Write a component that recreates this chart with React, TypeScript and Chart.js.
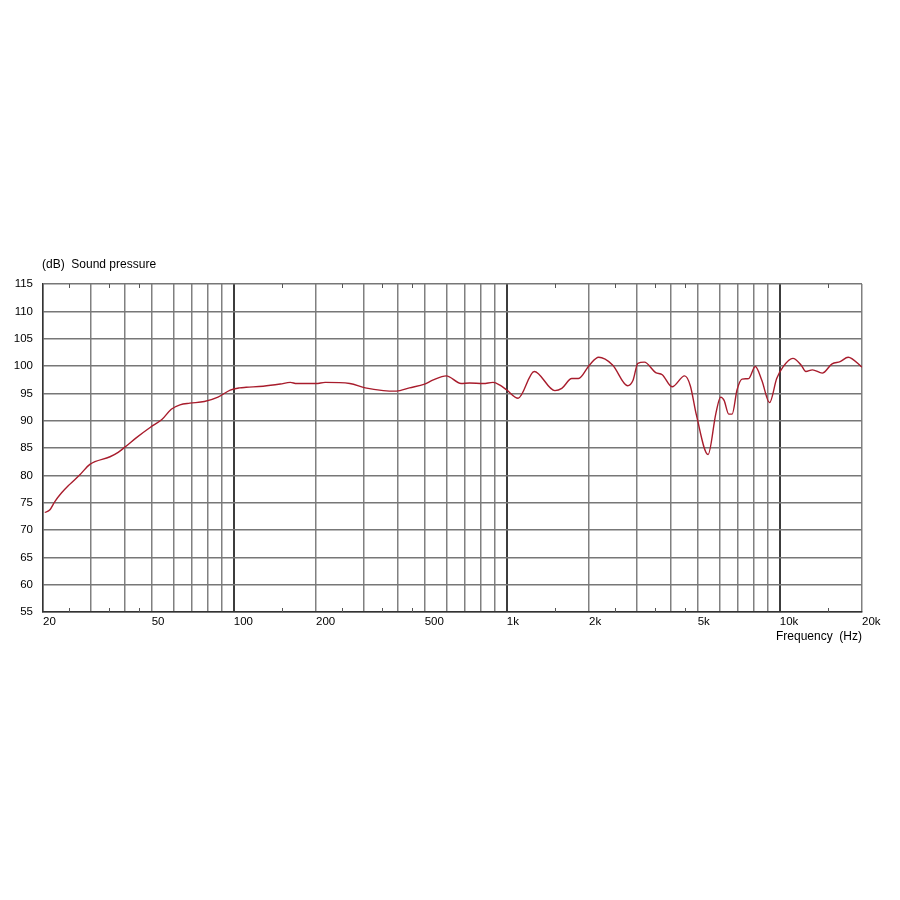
import React, { useEffect, useRef } from "react";
import { Chart, registerables } from "chart.js";

Chart.register(...registerables);

// Frequency (Hz) and sound pressure (dB)
const FREQS = [
  20.3, 21.2, 22.1, 23.4, 25, 27.3, 29.7, 35.2, 37.7, 40, 44, 49.5, 54.5, 59, 63.5, 69, 78, 87.5, 97, 105,
  111, 128, 148, 161, 170, 200, 216, 266, 303, 353, 394, 440, 500, 535, 600, 680, 730, 820, 890, 944,
  1000, 1100, 1260, 1500, 1590, 1730, 1830, 2010, 2170, 2440, 2770, 2900, 3020, 3190, 3510, 3710, 4030, 4480, 4700, 4950,
  5460, 5830, 6070, 6250, 6500, 6690, 6970, 7270, 7690, 8130, 8590, 9170, 9740, 10290, 11170, 11960, 12460, 13170, 14300, 15540,
  16630, 17800, 20000,
];
const SPL = [
  73.2, 73.7, 75.2, 76.8, 78.3, 80.1, 82.0, 83.4, 84.2, 85.2, 86.9, 88.8, 90.2, 92.1, 92.9, 93.2, 93.5, 94.3, 95.6, 96.0,
  96.1, 96.3, 96.7, 97.0, 96.8, 96.8, 97.0, 96.8, 96.0, 95.5, 95.4, 96.0, 96.7, 97.4, 98.2, 96.8, 96.9, 96.8, 97.0, 96.5,
  95.6, 94.1, 99.0, 95.5, 95.9, 97.7, 97.7, 100.2, 101.6, 100.2, 96.4, 97.4, 100.5, 100.7, 98.8, 98.4, 96.2, 98.2, 96.4, 91.0,
  83.8, 91.3, 94.3, 93.7, 91.2, 91.2, 95.6, 97.6, 97.7, 99.9, 97.4, 93.3, 97.7, 99.9, 101.4, 100.2, 99.0, 99.3, 98.7, 100.4,
  100.8, 101.6, 99.8,
];

const Y_MIN = 55;
const Y_MAX = 115;
const Y_STEP = 5;
const X_MIN = 20;
const X_MAX = 20000;

const GRID_FREQS = [
  20, 30, 40, 50, 60, 70, 80, 90,
  100, 200, 300, 400, 500, 600, 700, 800, 900,
  1000, 2000, 3000, 4000, 5000, 6000, 7000, 8000, 9000,
  10000, 20000,
];
const DECADES = [100, 1000, 10000];
const LABELED_FREQS = [20, 50, 100, 200, 500, 1000, 2000, 5000, 10000, 20000];
const LABEL_TEXT = ["20", "50", "100", "200", "500", "1k", "2k", "5k", "10k", "20k"];
const MINOR_TICKS = [25, 35, 45, 150, 250, 350, 450, 1500, 2500, 3500, 4500, 15000];

const Y_TITLE = "(dB)  Sound pressure";
const X_TITLE = "Frequency  (Hz)";

const FONT_FAMILY = "'Liberation Sans', Arial, sans-serif";
const TEXT_COLOR = "#000000";

const titlePlugin = {
  id: "topTitle",
  afterDraw(chart: any) {
    const { ctx, chartArea } = chart;
    ctx.save();
    ctx.font = `12px ${FONT_FAMILY}`;
    ctx.fillStyle = TEXT_COLOR;
    ctx.textAlign = "left";
    ctx.textBaseline = "middle";
    ctx.fillText(Y_TITLE, chartArea.left - 1, 265);
    ctx.restore();
  },
};

const minorTickPlugin = {
  id: "minorTicks",
  beforeDatasetsDraw(chart: any) {
    const { ctx, chartArea, scales } = chart;
    const xs = scales.x;
    ctx.save();
    ctx.strokeStyle = "#555";
    ctx.lineWidth = 1;
    ctx.beginPath();
    MINOR_TICKS.forEach((v) => {
      const px = Math.round(xs.getPixelForValue(v)) + 0.5;
      ctx.moveTo(px, chartArea.top);
      ctx.lineTo(px, chartArea.top + 4);
      ctx.moveTo(px, chartArea.bottom - 4);
      ctx.lineTo(px, chartArea.bottom);
    });
    ctx.stroke();
    ctx.restore();
  },
};

export default function App() {
  const canvasRef = useRef<HTMLCanvasElement | null>(null);

  useEffect(() => {
    const canvas = canvasRef.current;
    if (!canvas) return;
    const tickFont = { family: FONT_FAMILY, size: 11.5 };
    const chart = new Chart(canvas, {
      type: "line",
      data: {
        datasets: [
          {
            data: FREQS.map((f, i) => ({ x: f, y: SPL[i] })),
            borderColor: "#a81c2c",
            borderWidth: 1.4,
            pointRadius: 0,
            fill: false,
            cubicInterpolationMode: "monotone",
          },
        ],
      },
      options: {
        responsive: false,
        animation: false,
        devicePixelRatio: 1,
        layout: { padding: { top: 284, left: 0, right: 38, bottom: 0 } },
        plugins: {
          legend: { display: false },
          tooltip: { enabled: false },
        },
        scales: {
          x: {
            type: "logarithmic",
            min: X_MIN,
            max: X_MAX,
            afterBuildTicks: (scale: any) => {
              scale.ticks = GRID_FREQS.map((v) => ({ value: v }));
            },
            afterFit: (scale: any) => {
              scale.height = 288;
            },
            ticks: {
              autoSkip: false,
              maxRotation: 0,
              minRotation: 0,
              align: "start",
              padding: 3,
              font: tickFont,
              color: TEXT_COLOR,
              callback: (value: any) => {
                const i = LABELED_FREQS.indexOf(Number(value));
                return i >= 0 ? LABEL_TEXT[i] : "";
              },
            },
            grid: {
              drawTicks: false,
              color: (ctx: any) =>
                DECADES.includes(ctx.tick?.value) ? "#3c3c3c" : "#808080",
              lineWidth: (ctx: any) => (DECADES.includes(ctx.tick?.value) ? 2 : 1.5),
            },
            border: { display: true, color: "#333", width: 1.5 },
            title: {
              display: true,
              text: X_TITLE,
              align: "end",
              color: TEXT_COLOR,
              font: { family: FONT_FAMILY, size: 12 },
              padding: { top: 0, bottom: 255.8 },
            },
          },
          y: {
            type: "linear",
            min: Y_MIN,
            max: Y_MAX,
            afterFit: (scale: any) => {
              scale.width = 43;
            },
            ticks: {
              stepSize: Y_STEP,
              padding: 10,
              font: tickFont,
              color: TEXT_COLOR,
            },
            grid: {
              drawTicks: false,
              color: "#777777",
              lineWidth: 1.5,
            },
            border: { display: true, color: "#333", width: 1.5 },
          },
        },
      },
      plugins: [minorTickPlugin, titlePlugin],
    } as any);
    return () => chart.destroy();
  }, []);

  return (
    <div
      style={{
        position: "absolute",
        left: 0,
        top: 0,
        width: 900,
        height: 900,
        background: "#ffffff",
      }}
    >
      <canvas ref={canvasRef} width={900} height={900} style={{ display: "block" }} />
    </div>
  );
}
